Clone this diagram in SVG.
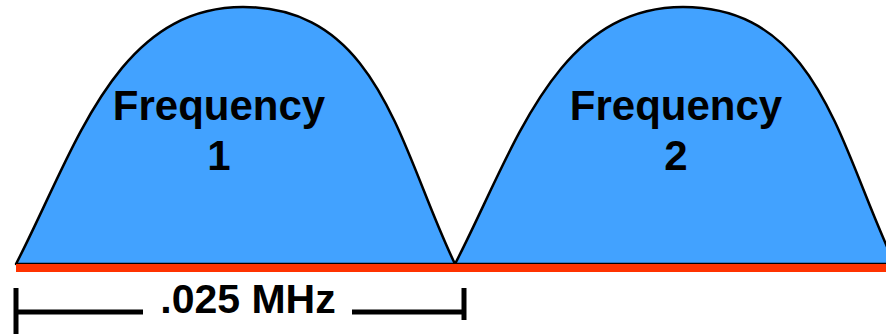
<svg xmlns="http://www.w3.org/2000/svg" width="886" height="334" viewBox="0 0 886 334">
<style>
.hump{fill:#42A2FF;stroke:#000;stroke-width:2.5;stroke-linejoin:round}
.lbl{font-family:"Liberation Sans",Arial,sans-serif;font-weight:bold;font-size:42px;fill:#000;text-anchor:middle}
.dim{stroke:#000;stroke-width:5;fill:none}
</style>
<g id="freq1">
<path class="hump" d="M16,264 C75,150 115,7 243,7 C380,7 400,150 455,264 Z"/>
<text class="lbl" x="219" y="120">Frequency</text>
<text class="lbl" x="219" y="170">1</text>
</g>
<g id="freq2">
<path class="hump" d="M455,264 C514,150 555,7 683,7 C820,7 840,150 895,264 Z"/>
<text class="lbl" x="676" y="120">Frequency</text>
<text class="lbl" x="676" y="170">2</text>
</g>
<g id="baseline">
<rect x="16" y="264" width="870" height="8" fill="#FF3300"/>
</g>
<g id="connectors">
<line class="dim" x1="16" y1="288" x2="16" y2="334"/>
<line class="dim" x1="16" y1="312" x2="143" y2="312"/>
<line class="dim" x1="352" y1="312" x2="464" y2="312"/>
<line class="dim" x1="464" y1="288" x2="464" y2="320"/>
<text class="lbl" x="248" y="313" style="font-size:41px">.025 MHz</text>
</g>
</svg>
